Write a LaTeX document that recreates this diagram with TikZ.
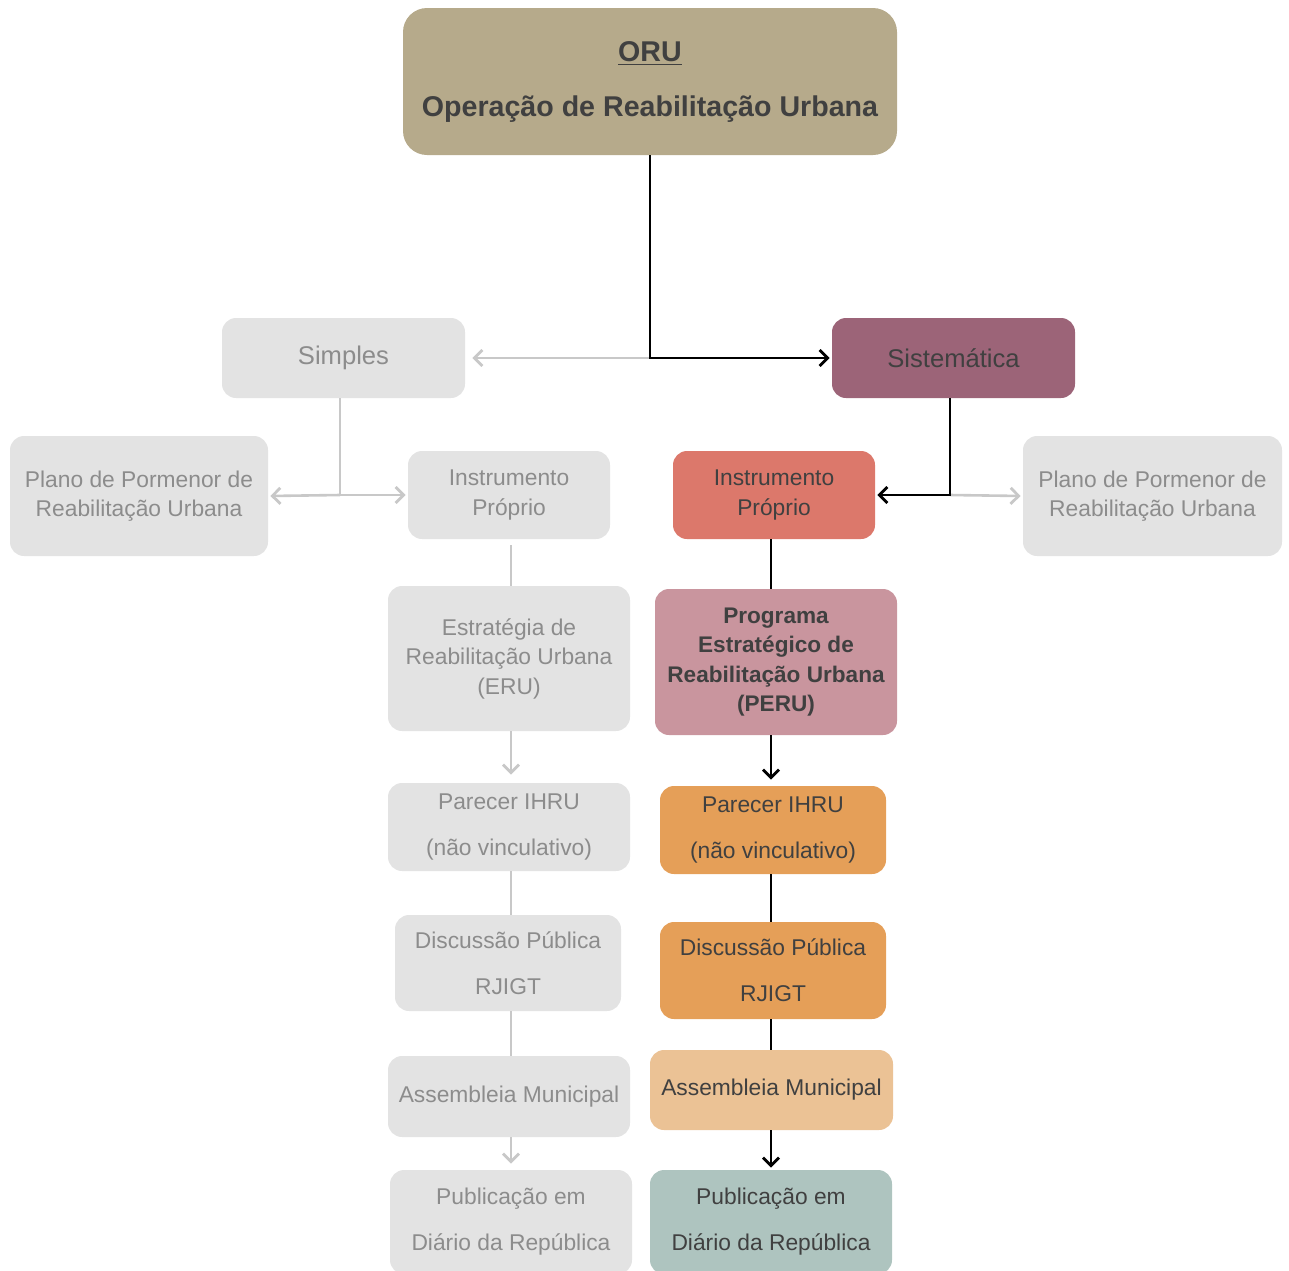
\documentclass[tikz,border=0pt]{standalone}
\usepackage{fontspec}
\setmainfont{Liberation Sans}
\usetikzlibrary{arrows.meta}
\definecolor{oruF}{HTML}{B6AA8B}
\definecolor{sisF}{HTML}{9C6478}
\definecolor{insF}{HTML}{DC786B}
\definecolor{perF}{HTML}{C9959E}
\definecolor{orgF}{HTML}{E59F58}
\definecolor{asmF}{HTML}{EBC295}
\definecolor{pubF}{HTML}{AEC4BF}
\definecolor{gryF}{HTML}{E3E3E3}
\definecolor{gryT}{HTML}{8C8C8C}
\definecolor{drkT}{HTML}{404040}
\definecolor{gryL}{HTML}{C8C8C8}
\newcommand\bx[7]{%
  \pgfmathsetmacro\bxw{(#5-#3)*0.5}%
  \pgfmathsetmacro\bxh{(#6-#4)*0.5}%
  \node[#2, minimum width=\bxw pt, minimum height=\bxh pt] (#1) at ({(#3+#5)/2},{(#4+#6)/2}) {#7};}
\begin{document}
\begin{tikzpicture}[x=0.5pt,y=-0.5pt,
  base/.style={rounded corners=7pt, inner sep=0pt, align=center,
    font=\fontsize{11.4}{14.75}\selectfont},
  gbox/.style={base, fill=gryF, text=gryT},
  cbox/.style={base, text=drkT},
  gln/.style={draw=gryL, line width=1.3pt},
  bln/.style={draw=black, line width=1.3pt},
  tip/.style={-{Straight Barb[length=4pt,width=8pt,line width=1.4pt]}}
]
\useasboundingbox (0,0) rectangle (1289,1270);
\clip (0,0) rectangle (1289,1270);
% top
\bx{oru}{cbox, fill=oruF, rounded corners=12pt, font=\bfseries\fontsize{14.3}{27.5}\selectfont}{403}{8}{897}{155}{\underline{ORU}\\Operação de Reabilitação Urbana}
\bx{simples}{gbox, font=\fontsize{12.8}{15}\selectfont}{222}{318}{465}{398}{Simples}
\bx{sist}{cbox, fill=sisF, font=\fontsize{12.8}{15}\selectfont}{832}{318}{1075}{398}{Sistemática}
% row 2
\bx{lppru}{gbox}{10}{436}{268}{556}{Plano de Pormenor de\\Reabilitação Urbana}
\bx{lins}{gbox}{408}{451}{610}{539}{Instrumento\\Próprio}
\bx{rins}{cbox, fill=insF}{673}{451}{875}{539}{Instrumento\\Próprio}
\bx{rppru}{gbox}{1023}{436}{1282}{556}{Plano de Pormenor de\\Reabilitação Urbana}
% left column
\bx{eru}{gbox}{388}{586}{630}{731}{Estratégia de\\Reabilitação Urbana\\(ERU)}
\bx{lpar}{gbox}{388}{783}{630}{871}{Parecer IHRU\\[8.25pt](não vinculativo)}
\bx{ldis}{gbox}{395}{915}{621}{1011}{Discussão Pública\\[8.25pt]RJIGT}
\bx{lasm}{gbox}{388}{1056}{630}{1137}{Assembleia Municipal}
\bx{lpub}{gbox}{390}{1170}{632}{1274}{Publicação em\\[8.25pt]Diário da República}
% right column
\bx{peru}{cbox, fill=perF, font=\bfseries\fontsize{11.3}{14.75}\selectfont}{655}{589}{897}{735}{Programa\\Estratégico de\\Reabilitação Urbana\\(PERU)}
\bx{rpar}{cbox, fill=orgF}{660}{786}{886}{874}{Parecer IHRU\\[8.25pt](não vinculativo)}
\bx{rdis}{cbox, fill=orgF}{660}{922}{886}{1019}{Discussão Pública\\[8.25pt]RJIGT}
\bx{rasm}{cbox, fill=asmF}{650}{1050}{893}{1130}{Assembleia Municipal}
\bx{rpub}{cbox, fill=pubF}{650}{1170}{892}{1274}{Publicação em\\[8.25pt]Diário da República}
% connectors top
\coordinate (j1) at (oru.south |- sist.west);
\draw[gln, tip, shorten >=3.5pt] (j1) -- (simples.east);
\draw[bln, tip, shorten >=1pt] (oru.south) |- (sist.west);
\coordinate (lc) at (340,0);
\coordinate (j2) at (lc |- lins.west);
\draw[gln] (lc |- simples.south) -- (j2);
\draw[gln, tip, shorten >=1pt] (j2) -- (lppru.east);
\draw[gln, tip, shorten >=1pt] (j2) -- (lins.west);
\coordinate (sc) at (950,0);
\coordinate (j3) at (sc |- rins.east);
\draw[gln, tip, shorten >=1pt] (j3) -- (rppru.west);
\draw[bln, tip, shorten >=1pt] (sc |- sist.south) |- (rins.east);
% left column
\coordinate (mc) at (511,0);
\draw[gln] ([yshift=-3pt]mc |- lins.south) -- (mc |- eru.north);
\draw[gln, tip, shorten >=4pt] (mc |- eru.south) -- (mc |- lpar.north);
\draw[gln] (mc |- lpar.south) -- (mc |- ldis.north);
\draw[gln] (mc |- ldis.south) -- (mc |- lasm.north);
\draw[gln, tip, shorten >=3pt] (mc |- lasm.south) -- (mc |- lpub.north);
% right column
\coordinate (rc) at (771,0);
\draw[bln] (rc |- rins.south) -- (rc |- peru.north);
\draw[bln, tip, shorten >=3pt] (rc |- peru.south) -- (rc |- rpar.north);
\draw[bln] (rc |- rpar.south) -- (rc |- rdis.north);
\draw[bln] (rc |- rdis.south) -- (rc |- rasm.north);
\draw[bln, tip, shorten >=1pt] (rc |- rasm.south) -- (rc |- rpub.north);
\end{tikzpicture}
\end{document}
